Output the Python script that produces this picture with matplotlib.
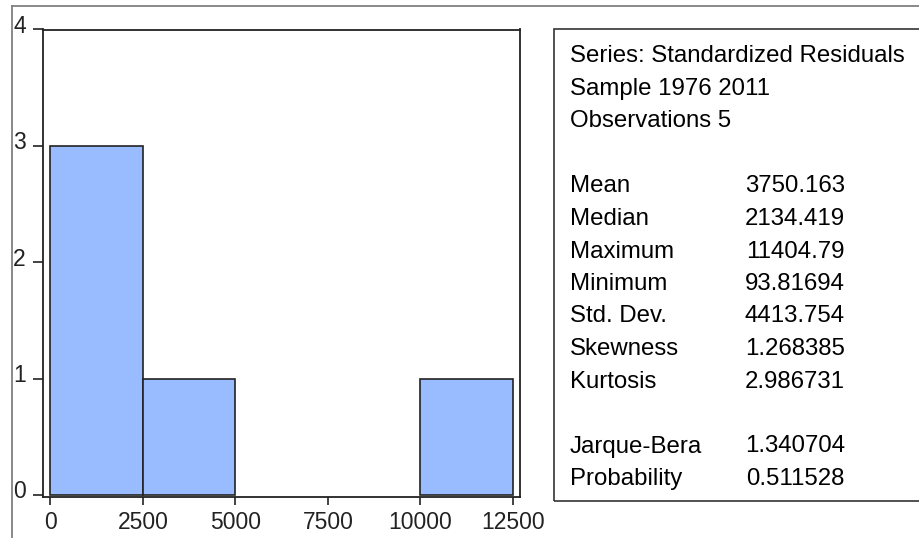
import matplotlib.pyplot as plt
import matplotlib.transforms as mtransforms
from matplotlib.patches import Rectangle
from matplotlib.lines import Line2D

plt.rcParams['font.family'] = ['Liberation Sans', 'DejaVu Sans']

# histogram bins (left edges) and counts
bin_edges = [0, 2500, 5000, 7500, 10000]
bin_width = 2500
counts = [3, 1, 0, 0, 1]

x_ticks = [0, 2500, 5000, 7500, 10000, 12500]
y_ticks = [0, 1, 2, 3, 4]

# summary statistics
header = ["Series: Standardized Residuals", "Sample 1976 2011", "Observations 5"]
stat_names = ["Mean", "Median", "Maximum", "Minimum", "Std. Dev.", "Skewness", "Kurtosis"]
stat_values = ["3750.163", "2134.419", "11404.79", "93.81694", "4413.754", "1.268385", "2.986731"]
test_names = ["Jarque-Bera", "Probability"]
test_values = ["1.340704", "0.511528"]

W, H = 920, 538
fig = plt.figure(figsize=(W / 100, H / 100), dpi=100)

def fx(px):
    return px / W

def fy(py):
    return (H - py) / H

# outer frame
fig.add_artist(Line2D([fx(12), 1.0], [fy(6), fy(6)], color='#808080', lw=1.3))
fig.add_artist(Line2D([fx(12), fx(12)], [fy(6), 0.0], color='#808080', lw=1.3))

ax = fig.add_axes([fx(43), fy(497), fx(520) - fx(43), fy(29.5) - fy(497)])
# empty bins have no visible bar
edge_cols = ['#222222' if c > 0 else 'none' for c in counts]
ax.bar(bin_edges, counts, width=bin_width, align='edge',
       color='#99BBFF', edgecolor=edge_cols, linewidth=1.2)
ax.set_xlim(-200, 12690)
ax.set_ylim(-0.018, 4)
ax.set_xticks(x_ticks)
ax.set_xticklabels([str(t) for t in x_ticks])
ax.set_yticks(y_ticks)
ax.set_yticklabels([str(t) for t in y_ticks])
for s in ax.spines.values():
    s.set_color('#222222')
    s.set_linewidth(1.3)
ax.tick_params(axis='x', direction='out', length=6, width=1.2, pad=4,
               labelsize=16.5, colors='#222222')
ax.tick_params(axis='y', direction='out', length=7.5, width=1.2, pad=5,
               labelsize=16.5, colors='#222222')
# y labels sit just above their tick, as in EViews
shift = mtransforms.ScaledTranslation(0, -2.5 / 72, fig.dpi_scale_trans)
for lab in ax.get_yticklabels():
    lab.set_verticalalignment('baseline')
    lab.set_transform(lab.get_transform() + shift)

# stats box
fig.add_artist(Rectangle((fx(554), fy(501)), 1.0 - fx(554) + 0.01, fy(29) - fy(501),
                         transform=fig.transFigure, fill=False,
                         edgecolor='#333333', lw=1.2))

fs = 17.3
tx, vx = fx(570), fx(845)
header_y = [62, 94.5, 127]
for t, y in zip(header, header_y):
    fig.text(tx, fy(y), t, fontsize=fs, va='baseline', ha='left', color='black')
stat_y = [192.5, 225, 257.5, 290, 322.5, 355, 387.5]
for n, v, y in zip(stat_names, stat_values, stat_y):
    fig.text(tx, fy(y), n, fontsize=fs, va='baseline', ha='left')
    fig.text(vx, fy(y), v, fontsize=fs, va='baseline', ha='right')
test_y = [452.5, 485]
for n, v, y in zip(test_names, test_values, test_y):
    fig.text(tx, fy(y), n, fontsize=fs, va='baseline', ha='left')
    fig.text(vx, fy(y), v, fontsize=fs, va='baseline', ha='right')

fig.savefig('out.png', dpi=100)
